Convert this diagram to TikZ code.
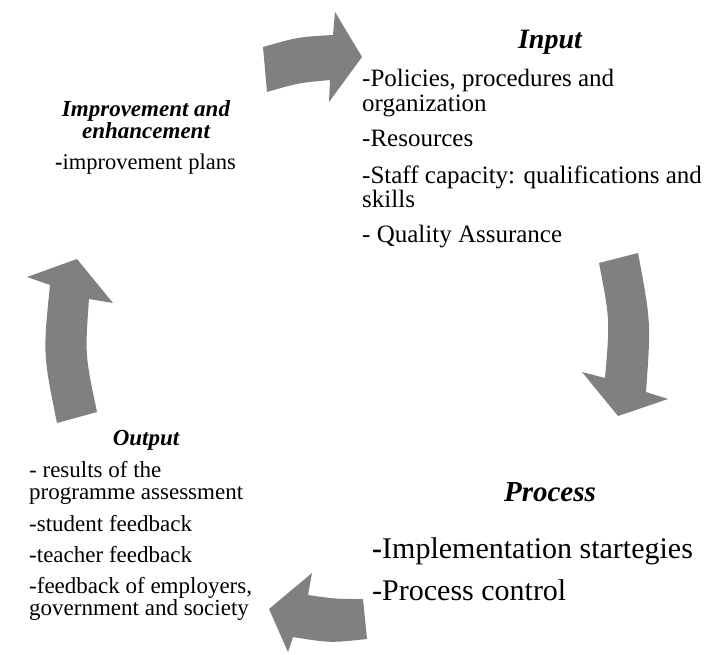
\documentclass[tikz,border=0pt]{standalone}
\usepackage{fontspec}
\setmainfont{Liberation Serif}
\usepackage{tikz}
\definecolor{arrowgray}{HTML}{808080}
\tikzset{
	arrowstyle/.style={fill=arrowgray,draw=none},
	titlestyle/.style={anchor=base,inner sep=0pt},
	itemstyle/.style={anchor=base west,inner sep=0pt}
}
\newcommand{\fsize}[1]{\fontsize{#1}{#1}\selectfont}

\begin{document}
\begin{tikzpicture}[x=1pt,y=-1pt]
		\useasboundingbox (0,0) rectangle (708,654);
		% the four arrows of the cycle
		\fill[arrowstyle] (263,47) .. controls (298,37) .. (333,35) -- (335,12) -- (362,57) -- (329,102) -- (330,80) .. controls (298,83) .. (267,92) -- cycle;
		\fill[arrowstyle] (599,263) -- (638,253) .. controls (651,322) .. (646,392) -- (668,399) -- (618,416) -- (582,372) -- (605,378) .. controls (610,320) .. (599,263) -- cycle;
		\fill[arrowstyle] (363,599) -- (367,639) .. controls (330,643) .. (293,637) -- (288,652) -- (269,609) -- (312,573) -- (308,595) .. controls (336,599) .. (363,599) -- cycle;
		\fill[arrowstyle] (57,423) -- (97,412) .. controls (85,355) .. (89,299) -- (113,303) -- (77,259) -- (27,277) -- (50,285) .. controls (43,354) .. (57,423) -- cycle;
		% input
		\node[titlestyle,font=\bfseries\itshape\fsize{28}] (input) at (550,48) {Input};
		\node[itemstyle,font=\fsize{25}] (in1) at (362,86) {-Policies, procedures and};
		\node[itemstyle,font=\fsize{25}] (in2) at (362,111) {organization};
		\node[itemstyle,font=\fsize{25}] (in3) at (362,146) {-Resources};
		\node[itemstyle,font=\fsize{25}] (in4) at (362,183) {-Staff capacity: qualifications and};
		\node[itemstyle,font=\fsize{25}] (in5) at (362,207) {skills};
		\node[itemstyle,font=\fsize{25}] (in6) at (362,242) {- Quality Assurance};
		% process
		\node[titlestyle,font=\bfseries\itshape\fsize{29}] (process) at (550,501) {Process};
		\node[itemstyle,font=\fsize{30}] (pr1) at (372,558) {{\bfseries -}Implementation startegies};
		\node[itemstyle,font=\fsize{30}] (pr2) at (372,600) {-Process control};
		% output
		\node[titlestyle,font=\bfseries\itshape\fsize{23}] (output) at (146,445) {Output};
		\node[itemstyle,font=\fsize{23}] (out1) at (29,477) {- results of the};
		\node[itemstyle,font=\fsize{23}] (out2) at (29,499) {programme assessment};
		\node[itemstyle,font=\fsize{23}] (out3) at (29,531) {-student feedback};
		\node[itemstyle,font=\fsize{23}] (out4) at (29,562) {-teacher feedback};
		\node[itemstyle,font=\fsize{23}] (out5) at (29,593) {-feedback of employers,};
		\node[itemstyle,font=\fsize{23}] (out6) at (29,615) {government and society};
		% improvement
		\node[titlestyle,font=\bfseries\itshape\fsize{23}] (impr1) at (146,116) {Improvement and};
		\node[titlestyle,font=\bfseries\itshape\fsize{23}] (impr2) at (146,138) {enhancement};
		\node[itemstyle,font=\fsize{22.5}] (impr3) at (55,169) {{\bfseries -}improvement plans};
\end{tikzpicture}
\end{document}
